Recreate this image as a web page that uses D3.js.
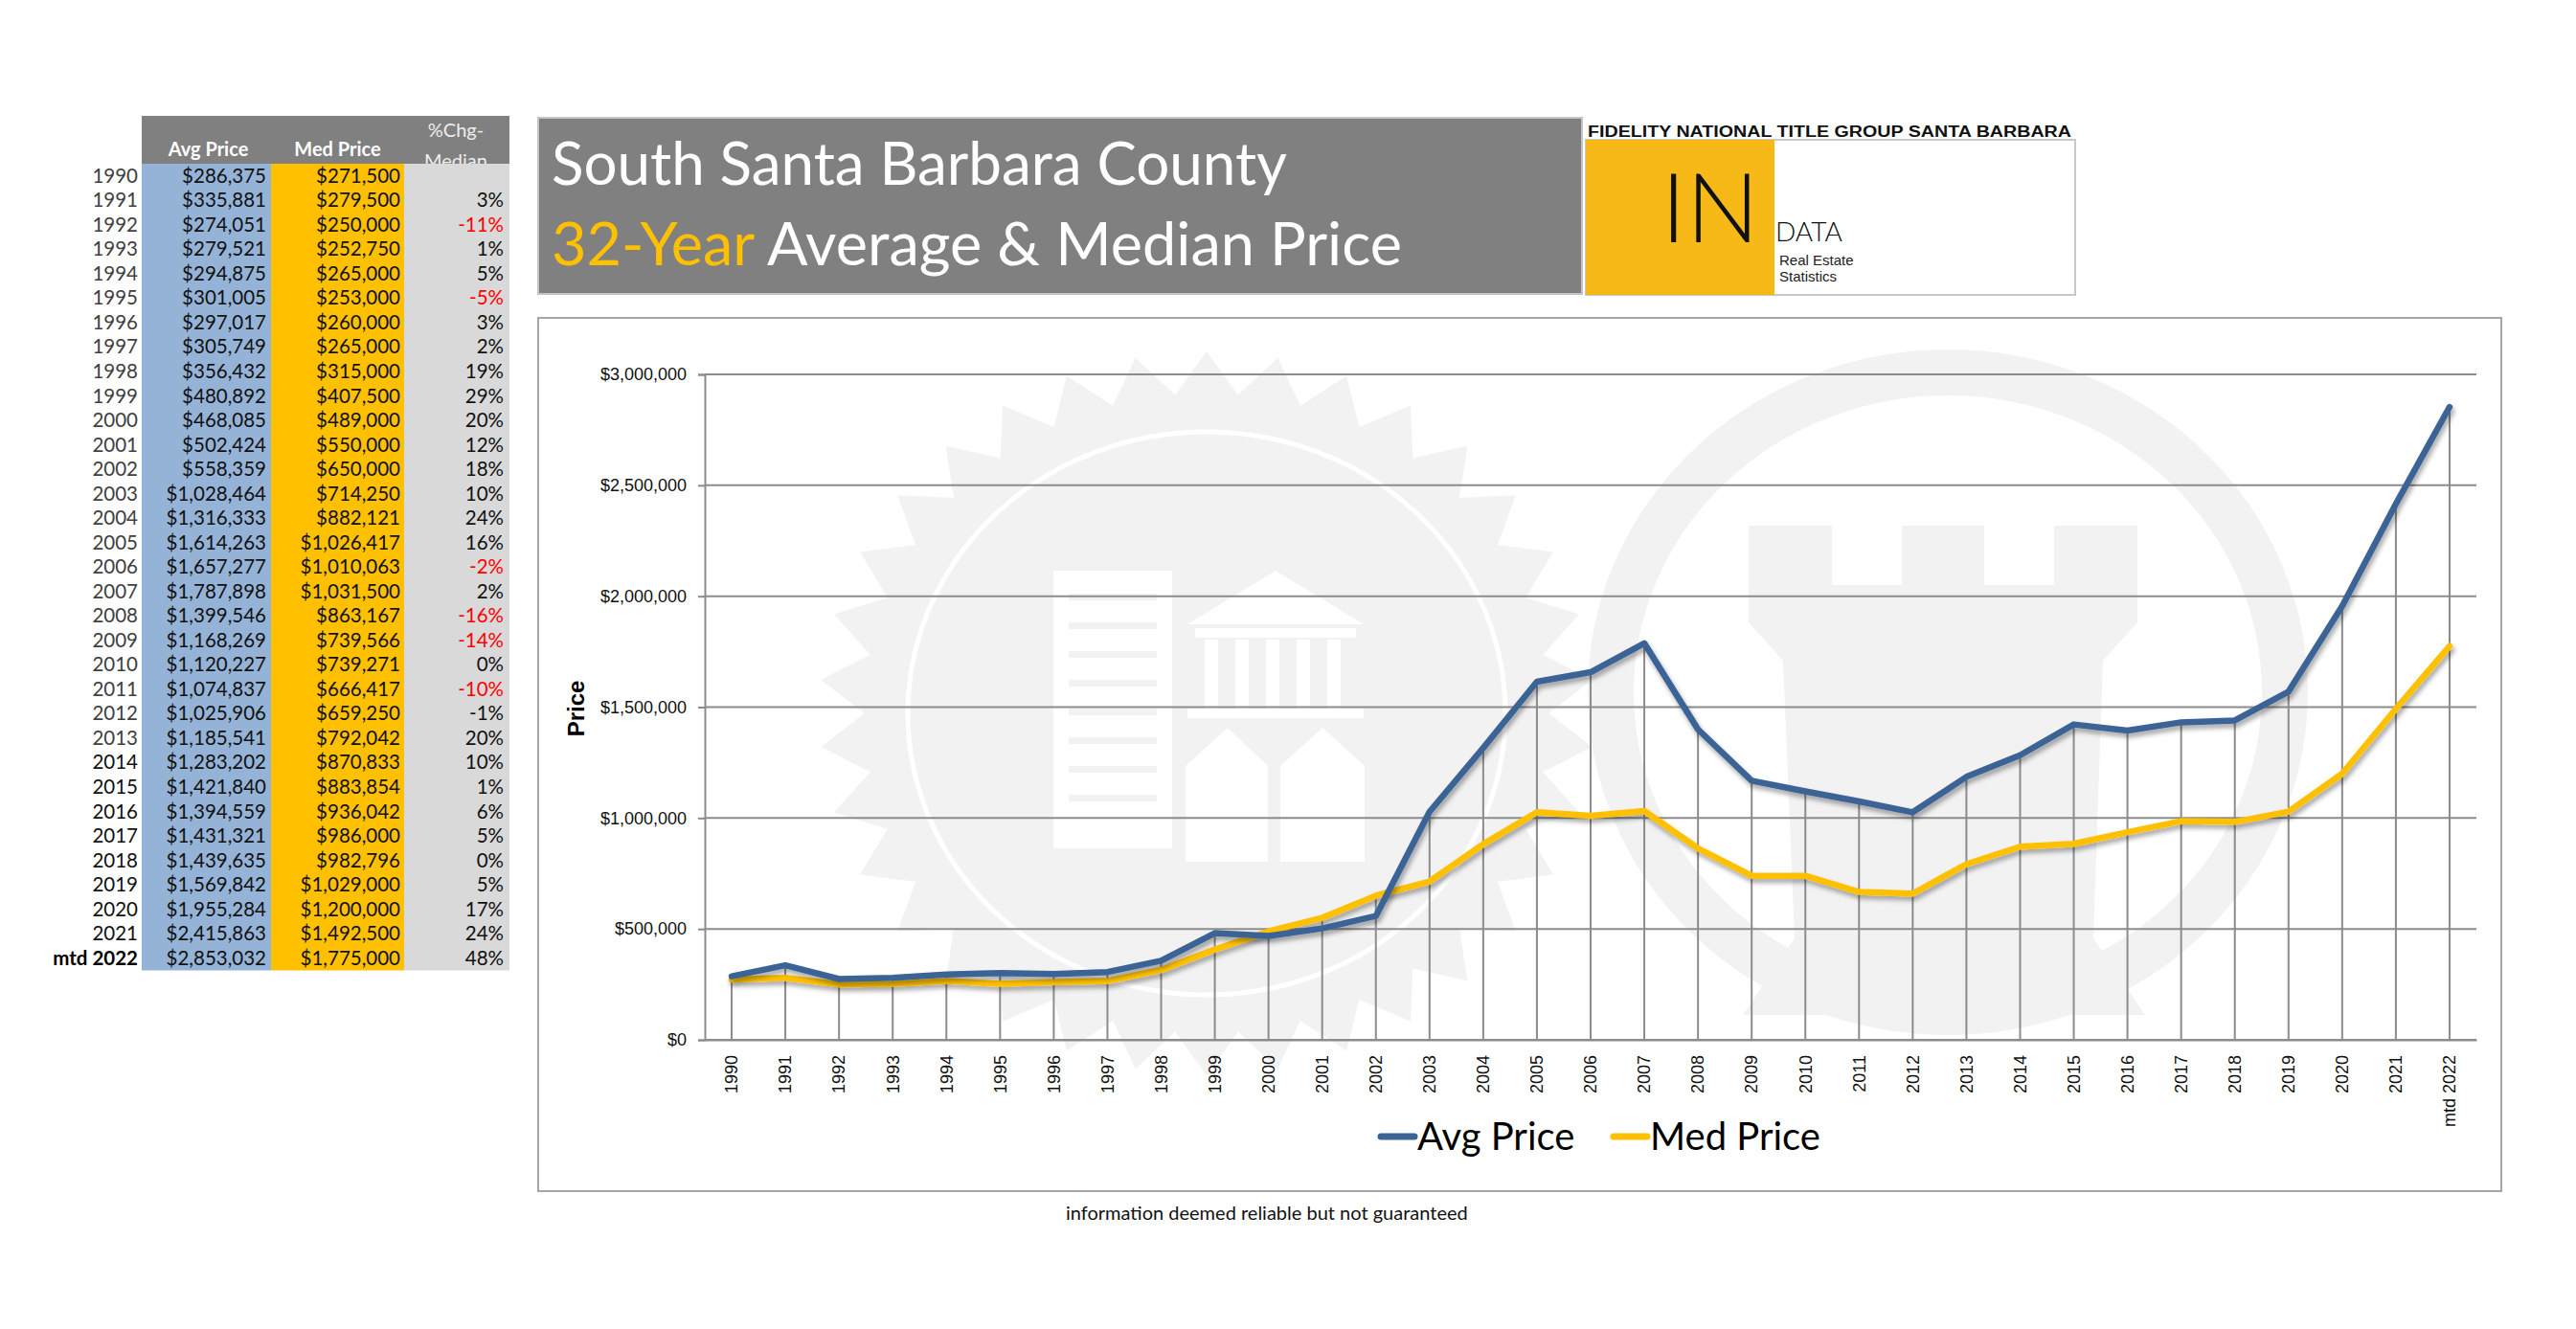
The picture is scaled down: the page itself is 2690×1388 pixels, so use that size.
<!DOCTYPE html>
<html>
<head>
<meta charset="utf-8">
<script src="https://cdn.jsdelivr.net/npm/d3@7"></script>
<style>
  body { margin: 0; background: #fff; }
  svg { display: block; }
</style>
</head>
<body>
<div id="chart"></div>
<script>
const years = ['1990', '1991', '1992', '1993', '1994', '1995', '1996', '1997', '1998', '1999',
  '2000', '2001', '2002', '2003', '2004', '2005', '2006', '2007', '2008', '2009', '2010',
  '2011', '2012', '2013', '2014', '2015', '2016', '2017', '2018', '2019', '2020', '2021', 'mtd 2022'];
const avgPrice = [286375, 335881, 274051, 279521, 294875, 301005, 297017, 305749, 356432, 480892,
  468085, 502424, 558359, 1028464, 1316333, 1614263, 1657277, 1787898, 1399546, 1168269, 1120227,
  1074837, 1025906, 1185541, 1283202, 1421840, 1394559, 1431321, 1439635, 1569842, 1955284, 2415863, 2853032];
const medPrice = [271500, 279500, 250000, 252750, 265000, 253000, 260000, 265000, 315000, 407500,
  489000, 550000, 650000, 714250, 882121, 1026417, 1010063, 1031500, 863167, 739566, 739271,
  666417, 659250, 792042, 870833, 883854, 936042, 986000, 982796, 1029000, 1200000, 1492500, 1775000];
const pctChgMedian = [null, 3, -11, 1, 5, -5, 3, 2, 19, 29, 20, 12, 18, 10, 24, 16, -2, 2, -16, -14, 0,
  -10, -1, 20, 10, 1, 6, 5, 0, 5, 17, 24, 48];
const yTicks = [0, 500000, 1000000, 1500000, 2000000, 2500000, 3000000];
const seriesNames = ['Avg Price', 'Med Price'];
const seriesColors = ['#3b6496', '#ffc000'];

const W = 2690, H = 1388;
const svg = d3.select('#chart').append('svg').attr('width', W).attr('height', H);

const money = d3.format('$,');

// ---------- left data table ----------
const tbl = { x0: 148, x1: 283, x2: 422, x3: 532, headTop: 121, rowTop: 171, rowH: 25.53 };
const tableG = svg.append('g').style('font-family', 'Lato, "Open Sans", sans-serif');
const tableBottom = tbl.rowTop + years.length * tbl.rowH;

tableG.append('rect').attr('x', tbl.x0).attr('y', tbl.headTop)
  .attr('width', tbl.x3 - tbl.x0).attr('height', tbl.rowTop - tbl.headTop).attr('fill', '#808080');
tableG.append('rect').attr('x', tbl.x0).attr('y', tbl.rowTop)
  .attr('width', tbl.x1 - tbl.x0).attr('height', tableBottom - tbl.rowTop).attr('fill', '#95b3d7');
tableG.append('rect').attr('x', tbl.x1).attr('y', tbl.rowTop)
  .attr('width', tbl.x2 - tbl.x1).attr('height', tableBottom - tbl.rowTop).attr('fill', '#ffc000');
tableG.append('rect').attr('x', tbl.x2).attr('y', tbl.rowTop)
  .attr('width', tbl.x3 - tbl.x2).attr('height', tableBottom - tbl.rowTop).attr('fill', '#d9d9d9');

svg.append('clipPath').attr('id', 'headClip').append('rect')
  .attr('x', tbl.x0).attr('y', tbl.headTop).attr('width', tbl.x3 - tbl.x0).attr('height', tbl.rowTop - tbl.headTop);
const head = tableG.append('g').attr('clip-path', 'url(#headClip)');
head.append('text').attr('x', (tbl.x0 + tbl.x1) / 2 + 2).attr('y', 163).attr('text-anchor', 'middle')
  .attr('fill', '#fff').style('font-size', '20px').style('font-weight', 'bold').text('Avg Price');
head.append('text').attr('x', (tbl.x1 + tbl.x2) / 2).attr('y', 163).attr('text-anchor', 'middle')
  .attr('fill', '#fff').style('font-size', '20px').style('font-weight', 'bold').text('Med Price');
head.append('text').attr('x', 476).attr('y', 143).attr('text-anchor', 'middle')
  .attr('fill', '#eee').style('font-size', '20px').text('%Chg-');
head.append('text').attr('x', 476).attr('y', 175).attr('text-anchor', 'middle')
  .attr('fill', '#eee').style('font-size', '20px').text('Median');

const rows = tableG.selectAll('g.row').data(years).join('g')
  .attr('class', 'row')
  .attr('transform', (d, i) => `translate(0,${tbl.rowTop + (i + 0.5) * tbl.rowH + 7})`)
  .style('font-size', '20.5px');
rows.append('text').attr('x', 144).attr('text-anchor', 'end')
  .attr('fill', (d, i) => i === years.length - 1 ? '#000' : (i < 24 ? '#404040' : '#111'))
  .style('font-weight', (d, i) => i === years.length - 1 ? 'bold' : 'normal')
  .text(d => d);
rows.append('text').attr('x', 278).attr('text-anchor', 'end').attr('fill', '#111')
  .text((d, i) => money(avgPrice[i]));
rows.append('text').attr('x', 418).attr('text-anchor', 'end').attr('fill', '#111')
  .text((d, i) => money(medPrice[i]));
rows.append('text').attr('x', 526).attr('text-anchor', 'end')
  .attr('fill', (d, i) => pctChgMedian[i] !== null && pctChgMedian[i] <= -2 ? '#ff0000' : '#111')
  .text((d, i) => pctChgMedian[i] === null ? '' : pctChgMedian[i] + '%');

// ---------- title block ----------
svg.append('rect').attr('x', 562).attr('y', 123).attr('width', 1090).attr('height', 184)
  .attr('fill', '#808080').attr('stroke', '#c4c4c4').attr('stroke-width', 2);
svg.append('text').attr('x', 576).attr('y', 193)
  .attr('textLength', 768).attr('lengthAdjust', 'spacingAndGlyphs')
  .attr('fill', '#fff').style('font-family', 'Lato, sans-serif').style('font-size', '62px')
  .text('South Santa Barbara County');
const t2 = svg.append('text').attr('x', 576).attr('y', 277)
  .attr('textLength', 888).attr('lengthAdjust', 'spacingAndGlyphs')
  .style('font-family', 'Lato, sans-serif').style('font-size', '62px');
t2.append('tspan').attr('fill', '#ffc000').text('32-Year');
t2.append('tspan').attr('fill', '#fff').text(' Average & Median Price');

// ---------- logo ----------
svg.append('text').attr('x', 1658).attr('y', 143)
  .attr('textLength', 505).attr('lengthAdjust', 'spacingAndGlyphs')
  .style('font-family', '"Liberation Sans", Arial, sans-serif').style('font-size', '16px')
  .style('font-weight', 'bold').attr('fill', '#111')
  .text('FIDELITY NATIONAL TITLE GROUP SANTA BARBARA');
svg.append('rect').attr('x', 1656).attr('y', 146).attr('width', 511).attr('height', 162)
  .attr('fill', '#fff').attr('stroke', '#c8c8c8').attr('stroke-width', 2);
svg.append('rect').attr('x', 1656).attr('y', 146).attr('width', 197).attr('height', 162).attr('fill', '#f6b918');
svg.append('text').attr('x', 1837).attr('y', 253).attr('text-anchor', 'end')
  .style('font-family', 'Lato, sans-serif').style('font-weight', 300).style('font-size', '101px')
  .attr('fill', '#111').text('IN');
svg.append('text').attr('x', 1854).attr('y', 252)
  .style('font-family', 'Lato, sans-serif').style('font-weight', 300).style('font-size', '28px')
  .attr('fill', '#111').text('DATA');
svg.append('text').attr('x', 1858).attr('y', 277)
  .style('font-family', '"Liberation Sans", Arial, sans-serif').style('font-size', '15px')
  .attr('fill', '#222').text('Real Estate');
svg.append('text').attr('x', 1858).attr('y', 294)
  .style('font-family', '"Liberation Sans", Arial, sans-serif').style('font-size', '15px')
  .attr('fill', '#222').text('Statistics');

// ---------- chart ----------
const frame = { x: 562, y: 332, w: 2050, h: 912 };
const plot = { left: 736, right: 2586, top: 391, bottom: 1086 };

svg.append('rect').attr('x', frame.x).attr('y', frame.y).attr('width', frame.w).attr('height', frame.h)
  .attr('fill', '#fff').attr('stroke', '#a6a6a6').attr('stroke-width', 2);

svg.append('clipPath').attr('id', 'frameClip').append('rect')
  .attr('x', frame.x + 1).attr('y', frame.y + 1).attr('width', frame.w - 2).attr('height', frame.h - 2);

// faint watermarks behind the plot (slightly stretched sideways, like the original)
const wm = svg.append('g').attr('clip-path', 'url(#frameClip)');
const wmFill = '#f2f2f2';
const seal = { cx: 1260, cy: 745, rOut: 378, rIn: 334, teeth: 34, sx: 1.07 };
const sealPts = d3.range(seal.teeth * 2).map(k => {
  const a = k * Math.PI / seal.teeth - Math.PI / 2;
  const r = k % 2 === 0 ? seal.rOut : seal.rIn;
  return [seal.cx + seal.sx * r * Math.cos(a), seal.cy + r * Math.sin(a)];
});
wm.append('polygon').attr('points', sealPts.map(p => p.join(',')).join(' ')).attr('fill', wmFill);
wm.append('ellipse').attr('cx', seal.cx).attr('cy', seal.cy).attr('rx', 312).attr('ry', 294)
  .attr('fill', 'none').attr('stroke', '#fff').attr('stroke-width', 5);
// building glyphs inside the seal
wm.append('rect').attr('x', 1100).attr('y', 596).attr('width', 124).attr('height', 290).attr('fill', '#fff');
d3.range(8).forEach(k => {
  wm.append('rect').attr('x', 1116).attr('y', 620 + k * 30).attr('width', 92).attr('height', 7).attr('fill', wmFill);
});
wm.append('path').attr('d', 'M1240,652 L1332,596 L1424,652 Z').attr('fill', '#fff');
wm.append('rect').attr('x', 1248).attr('y', 656).attr('width', 168).attr('height', 10).attr('fill', '#fff');
d3.range(5).forEach(k => {
  wm.append('rect').attr('x', 1258 + k * 32).attr('y', 668).attr('width', 14).attr('height', 72).attr('fill', '#fff');
});
wm.append('rect').attr('x', 1240).attr('y', 740).attr('width', 184).attr('height', 10).attr('fill', '#fff');
wm.append('path').attr('d', 'M1238,800 L1282,760 L1324,800 L1324,900 L1238,900 Z').attr('fill', '#fff');
wm.append('path').attr('d', 'M1337,800 L1381,760 L1425,800 L1425,900 L1337,900 Z').attr('fill', '#fff');

// castle ring
const ring = { cx: 2034, cy: 723 };
wm.append('ellipse').attr('cx', ring.cx).attr('cy', ring.cy).attr('rx', 352).attr('ry', 334)
  .attr('fill', 'none').attr('stroke', wmFill).attr('stroke-width', 48);
wm.append('path')
  .attr('d', 'M1826,549 L1913,549 L1913,611 L1986,611 L1986,549 L2072,549 L2072,611 L2145,611 L2145,549 L2232,549 ' +
    'L2232,650 L2196,690 L2186,980 L2240,1060 L1820,1060 L1874,980 L1862,690 L1826,650 Z')
  .attr('fill', wmFill);

const x = d3.scaleBand().domain(years).range([plot.left, plot.right]);
const y = d3.scaleLinear().domain([0, 3000000]).range([plot.bottom, plot.top]);
const cx = d => x(d) + x.bandwidth() / 2;

// gridlines
svg.append('g').selectAll('line').data(yTicks).join('line')
  .attr('x1', plot.left).attr('x2', plot.right)
  .attr('y1', d => y(d)).attr('y2', d => y(d))
  .attr('stroke', '#8c8c8c').attr('stroke-width', 2);

// y axis
const yAxis = svg.append('g').attr('transform', `translate(${plot.left},0)`)
  .call(d3.axisLeft(y).tickValues(yTicks).tickSize(7).tickPadding(12).tickFormat(d3.format('$,')));
yAxis.select('.domain').attr('stroke', '#8c8c8c').attr('stroke-width', 2);
yAxis.selectAll('.tick line').attr('stroke', '#8c8c8c').attr('stroke-width', 2);
yAxis.selectAll('text').attr('fill', '#111')
  .style('font-family', '"Liberation Sans", Arial, sans-serif').style('font-size', '18px');

svg.append('text').attr('transform', 'translate(610,740) rotate(-90)')
  .attr('text-anchor', 'middle').attr('fill', '#000')
  .style('font-family', '"Liberation Sans", Arial, sans-serif').style('font-size', '24px').style('font-weight', 'bold')
  .text('Price');

// x axis
const xAxis = svg.append('g').attr('transform', `translate(0,${plot.bottom})`)
  .call(d3.axisBottom(x).tickSize(0).tickPadding(0));
xAxis.select('.domain').attr('stroke', '#8c8c8c').attr('stroke-width', 2);
xAxis.selectAll('text')
  .attr('transform', 'translate(0,16) rotate(-90)')
  .attr('text-anchor', 'end').attr('x', 0).attr('y', 0).attr('dy', '0.35em')
  .attr('fill', '#111')
  .style('font-family', '"Liberation Sans", Arial, sans-serif').style('font-size', '18px');

// drop lines from the higher series down to the axis
svg.append('g').selectAll('line').data(years).join('line')
  .attr('x1', d => cx(d)).attr('x2', d => cx(d))
  .attr('y1', (d, i) => y(Math.max(avgPrice[i], medPrice[i]))).attr('y2', plot.bottom)
  .attr('stroke', '#8c8c8c').attr('stroke-width', 2);

// shadow under the lines
const defs = svg.append('defs');
defs.append('filter').attr('id', 'lineShadow').attr('x', '-5%').attr('y', '-5%').attr('width', '110%').attr('height', '120%')
  .append('feDropShadow').attr('dx', 2).attr('dy', 4).attr('stdDeviation', 2.5)
  .attr('flood-color', '#000').attr('flood-opacity', 0.35);

const line = d3.line().x((d, i) => cx(years[i])).y(d => y(d));
[medPrice, avgPrice].forEach((vals, k) => {
  svg.append('path').datum(vals)
    .attr('d', line)
    .attr('fill', 'none')
    .attr('stroke', seriesColors[1 - k])
    .attr('stroke-width', 6.5)
    .attr('stroke-linejoin', 'round').attr('stroke-linecap', 'round')
    .attr('filter', 'url(#lineShadow)');
});

// legend
const legend = svg.append('g').style('font-family', 'Lato, "Open Sans", sans-serif').style('font-size', '40px');
const legendX = [1439, 1682];
seriesNames.forEach((name, i) => {
  legend.append('line').attr('x1', legendX[i] + 3).attr('x2', legendX[i] + 38)
    .attr('y1', 1187).attr('y2', 1187)
    .attr('stroke', seriesColors[i]).attr('stroke-width', 7).attr('stroke-linecap', 'round');
  legend.append('text').attr('x', legendX[i] + 41).attr('y', 1201).attr('fill', '#000').text(name);
});

// footer
svg.append('text').attr('x', 1113).attr('y', 1274)
  .style('font-family', 'Lato, "Open Sans", sans-serif').style('font-size', '20px').attr('fill', '#111')
  .text('information deemed reliable but not guaranteed');
</script>
</body>
</html>
